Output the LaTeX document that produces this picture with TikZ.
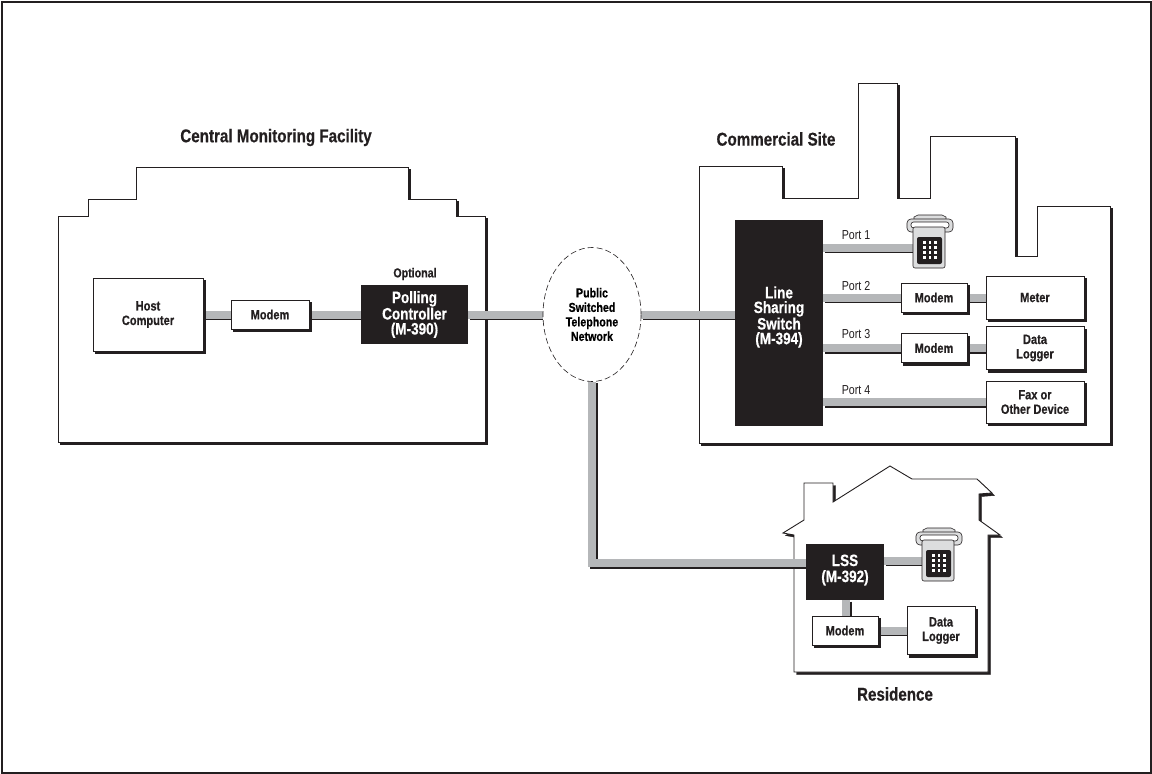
\documentclass[tikz,border=0pt]{standalone}
\usepackage{fontspec}
\newfontfamily\narrowfont[FakeStretch=0.82,BoldFeatures={FakeBold=0.5}]{Liberation Sans}
\usetikzlibrary{positioning,shapes.geometric,shadows,backgrounds}
\definecolor{wiregray}{HTML}{B5B7B9}
\definecolor{boxblack}{HTML}{231F20}
\definecolor{phonegray}{HTML}{DCDDDE}
\pgfdeclarelayer{wires}
\pgfsetlayers{background,wires,main}
\tikzset{
  shade3/.style={copy shadow={shadow xshift=2.5pt,shadow yshift=-2.5pt,fill=boxblack,draw=boxblack}},
  building/.style={draw=boxblack,line width=0.9pt,fill=white,shade3},
  whitebox/.style={draw=boxblack,line width=0.8pt,fill=white,shade3,align=center,inner sep=0pt,
    font=\narrowfont\bfseries\fontsize{13.5}{14.5}\selectfont,text=boxblack},
  blackbox/.style={fill=boxblack,align=center,inner sep=0pt,text=white,
    font=\narrowfont\bfseries\fontsize{16.5}{15}\selectfont},
  title/.style={font=\narrowfont\bfseries\fontsize{18.5}{20}\selectfont,text=boxblack},
  portlabel/.style={font=\narrowfont\fontsize{13}{15}\selectfont,text=boxblack},
  wire/.style={line width=8pt,draw=wiregray,
    preaction={draw=boxblack,line width=8pt,transform canvas={shift={(1.5pt,-1.5pt)}}}},
  pics/phone/.style={code={
    \draw[boxblack,fill=phonegray,line width=0.6pt] (7,12) -- (7,2) -- (11,0) -- (35,0) -- (39,2) -- (39,12) -- cycle;
    \draw[boxblack,fill=phonegray,line width=0.6pt,rounded corners=4pt] (0,4) rectangle (46,17);
    \draw[boxblack,fill=white,line width=0.6pt,rounded corners=2.5pt] (4,7) rectangle (42,13);
    \node[draw=boxblack,fill=phonegray,line width=0.6pt,rounded corners=2pt,inner sep=0pt,minimum width=32pt,minimum height=41pt]
      (-body) at (22,32.5) {};
    \fill[boxblack,rounded corners=2pt] (10,22) rectangle (35,49);
    \foreach \dotx in {17.5,23,28.5}
      \foreach \doty in {27.5,32.5,37.5,42.5}
        \fill[white] (\dotx-1.2,\doty-1.2) rectangle (\dotx+1.2,\doty+1.2);
  }}
}
\begin{document}
\begin{tikzpicture}[x=1pt,y=-1pt]
\useasboundingbox (0,0) rectangle (1152,774);
\node[inner sep=0pt,draw=boxblack,line width=2pt,minimum width=1149pt,minimum height=771pt] (frame) at (576,387) {};

% buildings
\begin{pgfonlayer}{background}
\draw[building] (58,442) -- (58,216) -- (88,216) -- (88,199) -- (136,199) -- (136,167) -- (408,167)
  -- (408,199) -- (456,199) -- (456,216) -- (485,216) -- (485,442) -- cycle;
\draw[building] (699,443) -- (699,166) -- (782,166) -- (782,198) -- (858,198) -- (858,83) -- (897,83)
  -- (897,198) -- (930,198) -- (930,136) -- (1015,136) -- (1015,256) -- (1037,256) -- (1037,206)
  -- (1110,206) -- (1110,443) -- cycle;
\draw[building] (794,672) -- (794,535) -- (783,533) -- (804,520) -- (804,483) -- (833,483) -- (833,502)
  -- (890,466) -- (912,479) -- (977,479) -- (992,493) -- (979,494) -- (979,520) -- (1000,535)
  -- (988,535) -- (988,672) -- cycle;
\end{pgfonlayer}

% central monitoring facility
\node[title] (cmf) at (276,137.5) {Central Monitoring Facility};
\node[whitebox,minimum width=110pt,minimum height=73pt] (host) at (148,314.5) {Host\\Computer};
\node[whitebox,minimum width=78pt,minimum height=29pt] (modemA) at (270,314.5) {Modem};
\node[blackbox,minimum width=107pt,minimum height=59pt] (poller) at (414.5,314.5) {Polling\\Controller\\(M-390)};
\node[portlabel,font=\narrowfont\bfseries\fontsize{13}{14}\selectfont] (opt) at (415,274) {Optional};

% telephone network
\node[ellipse,draw=boxblack,dash pattern=on 6pt off 3pt,line width=0.6pt,fill=white,inner sep=0pt,minimum width=98pt,minimum height=134pt,align=center,
  font=\narrowfont\bfseries\fontsize{13}{14.5}\selectfont] (pstn) at (592,314.5) {Public\\Switched\\Telephone\\Network};

% commercial site
\node[title] (csite) at (776,139) {Commercial Site};
\node[blackbox,minimum width=88pt,minimum height=206pt,
  label={[white,align=center,font=\narrowfont\bfseries\fontsize{16.5}{14.7}\selectfont,yshift=6pt]center:{Line\\Sharing\\Switch\\(M-394)}}] (lineswitch) at (779,323) {};
\pic (phoneA) at (907,215) {phone};
\node[whitebox,minimum width=66pt,minimum height=29pt] (modemB) at (934,297.5) {Modem};
\node[whitebox,minimum width=66pt,minimum height=29pt] (modemC) at (934,348) {Modem};
\node[whitebox,minimum width=98pt,minimum height=43pt] (meter) at (1035,297.5) {Meter};
\node[whitebox,minimum width=98pt,minimum height=43pt] (loggerA) at (1035,348) {Data\\Logger};
\node[whitebox,minimum width=98pt,minimum height=42pt] (fax) at (1035,402) {Fax or\\Other Device};
\node[portlabel] (portA) at (856,235) {Port 1};
\node[portlabel] (portB) at (856,286) {Port 2};
\node[portlabel] (portC) at (856,334) {Port 3};
\node[portlabel] (portD) at (856,390) {Port 4};

% residence
\node[title] (home) at (895,694) {Residence};
\node[blackbox,minimum width=78pt,minimum height=56pt,
  label={[white,align=center,font=\narrowfont\bfseries\fontsize{16.5}{16}\selectfont,yshift=2pt]center:{LSS\\(M-392)}}] (lss) at (845,572) {};
\pic (phoneB) at (916,528) {phone};
\node[whitebox,minimum width=66pt,minimum height=29pt] (modemD) at (845,630.5) {Modem};
\node[whitebox,minimum width=68pt,minimum height=48pt] (loggerB) at (941,630.5) {Data\\Logger};

% connectors
\begin{pgfonlayer}{wires}
\draw[wire] (host) -- (modemA);
\draw[wire] (modemA) -- (poller);
\draw[wire] (poller) -- (pstn);
\draw[wire] (pstn) -- (pstn -| lineswitch.west);
\draw[wire] (lineswitch.east |- phoneA-body) -- (phoneA-body);
\draw[wire] (lineswitch.east |- modemB) -- (modemB);
\draw[wire] (modemB) -- (meter);
\draw[wire] (lineswitch.east |- modemC) -- (modemC);
\draw[wire] (modemC) -- (loggerA);
\draw[wire] (lineswitch.east |- fax) -- (fax);
\draw[wire] (pstn.south) |- ([yshift=9pt]lss.west);
\draw[wire] (lss.east |- phoneB-body) -- (phoneB-body);
\draw[wire] ([xshift=1pt]lss.south) -- ([xshift=1pt]modemD.north);
\draw[wire] (modemD) -- (loggerB);
\end{pgfonlayer}
\end{tikzpicture}
\end{document}
